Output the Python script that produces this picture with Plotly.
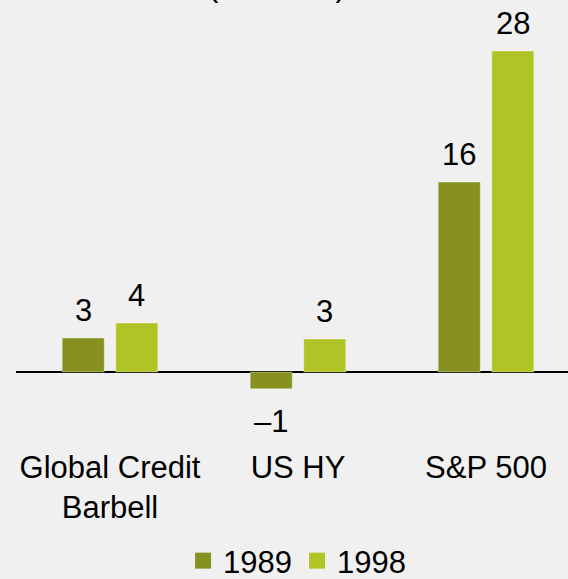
import plotly.graph_objects as go

# Category labels and returns (%) for the two episodes
categories = ["Global Credit<br>Barbell", "US HY", "S&P 500"]
returns_1989 = [2.93, -1.44, 16.38]
returns_1998 = [4.22, 2.84, 27.67]
series_names = ["1989", "1998"]

FONT = "Liberation Sans, Arial, sans-serif"
DARK = "#87911F"
LIGHT = "#B1C425"
BG = "#F0F0F0"
BARGAP = 0.43
GROUPGAP = 0.215

fig = go.Figure()

x_idx = list(range(len(categories)))
for name, vals, color in [(series_names[0], returns_1989, DARK),
                          (series_names[1], returns_1998, LIGHT)]:
    fig.add_trace(go.Bar(
        x=x_idx, y=vals, name=name,
        marker=dict(color=color, line=dict(color="rgba(255,255,255,0.35)", width=1)),
        showlegend=False,
    ))
    # legend entries with larger square swatches
    fig.add_trace(go.Scatter(
        x=[None], y=[None], mode="markers", name=name,
        marker=dict(symbol="square", size=16, color=color),
        showlegend=True,
    ))

# value labels above / below each bar
half = (1 - BARGAP) / 4
annotations = []
for vals, off in [(returns_1989, -half), (returns_1998, half)]:
    for i, v in enumerate(vals):
        label = f"{round(v):d}".replace("-", "\u2013")
        annotations.append(dict(
            x=i + off, y=v, xref="x", yref="y", text=label, showarrow=False,
            yanchor="bottom" if v >= 0 else "top",
            yshift=8 if v >= 0 else -13,
            font=dict(family=FONT, size=31, color="#000000"),
        ))

annotations.append(dict(
    x=(277 - 16) / 552, y=1, xref="paper", yref="paper", text="(% return)",
    showarrow=False, yanchor="bottom", yshift=35,
    font=dict(family=FONT, size=31, color="#000000"),
))

T, B, ZERO, K = 40, 446, 372, 11.6
LEGEND_BOTTOM = 588
fig.update_layout(
    width=568, height=579,
    margin=dict(l=16, r=0, t=T, b=579 - B, pad=0, autoexpand=False),
    paper_bgcolor=BG, plot_bgcolor=BG,
    barmode="group", bargap=BARGAP, bargroupgap=GROUPGAP,
    font=dict(family=FONT, size=31, color="#000000"),
    xaxis=dict(
        tickmode="array", tickvals=x_idx, ticktext=categories,
        range=[-0.5, -0.5 + 552 / 188], showgrid=False, showline=False,
        ticks="", zeroline=False, tickfont=dict(size=31),
        tickangle=0, automargin=False,
    ),
    yaxis=dict(
        range=[-(B - ZERO) / K, (ZERO - T) / K], visible=True,
        showticklabels=False, showgrid=False, ticks="",
        zeroline=True, zerolinecolor="#000000", zerolinewidth=2,
        automargin=False,
    ),
    legend=dict(
        orientation="h", x=0.523, xanchor="center", xref="container",
        y=(B - LEGEND_BOTTOM) / (B - T), yanchor="bottom", yref="paper",
        font=dict(size=31), bgcolor="rgba(0,0,0,0)",
        itemwidth=30, tracegroupgap=0,
    ),
    annotations=annotations,
)

fig.write_html("out.html")
